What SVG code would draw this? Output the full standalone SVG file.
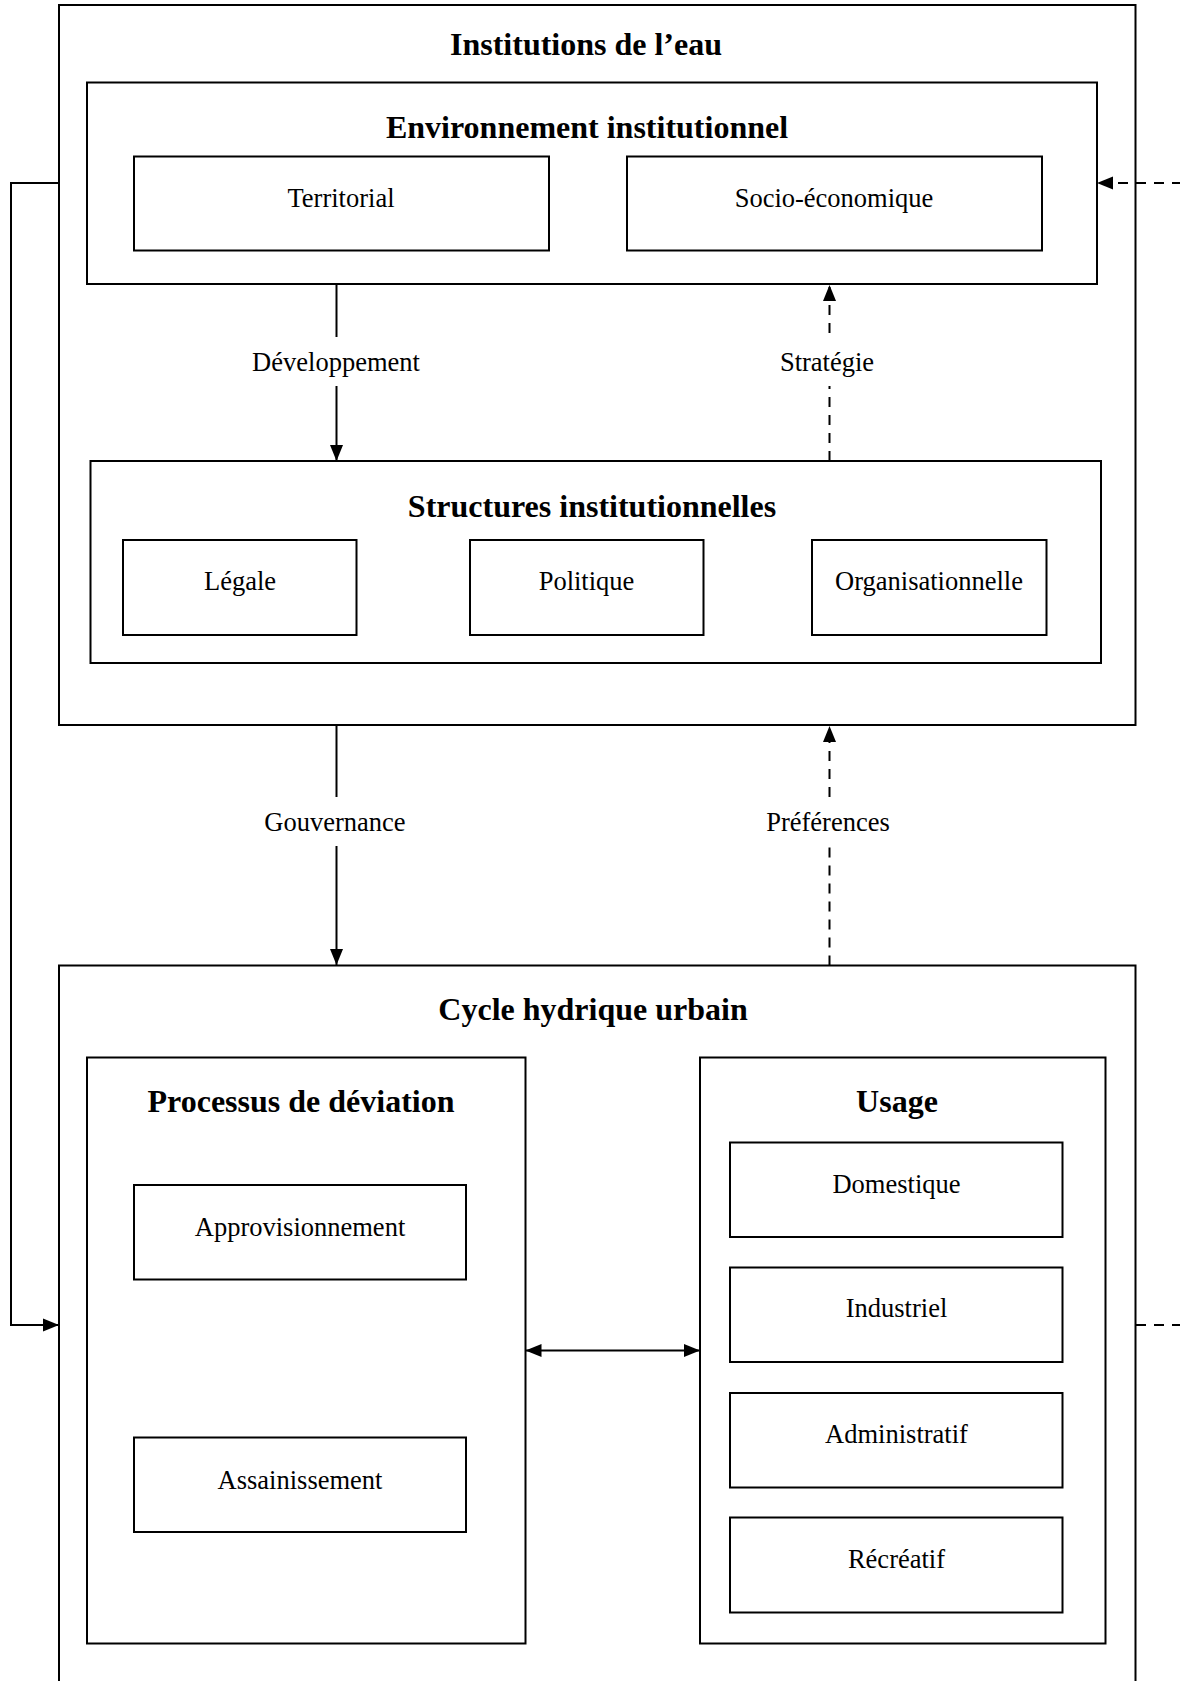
<svg xmlns="http://www.w3.org/2000/svg" width="1180" height="1681" viewBox="0 0 1180 1681">
  <style>
    .box { fill: none; stroke: #000; stroke-width: 2; }
    .title { font-family: "Liberation Serif", "Times New Roman", serif; font-weight: bold; font-size: 32px; text-anchor: middle; fill: #000; }
    .lbl { font-family: "Liberation Serif", "Times New Roman", serif; font-size: 26.5px; text-anchor: middle; fill: #000; }
    .line { fill: none; stroke: #000; stroke-width: 2; }
    .dash { fill: none; stroke: #000; stroke-width: 2; stroke-dasharray: 10 8; }
  </style>
  <defs>
    <marker id="arrow" markerUnits="userSpaceOnUse" markerWidth="17" markerHeight="14" refX="16" refY="6.5" orient="auto-start-reverse" viewBox="0 0 17 13">
      <path d="M0,0 L16,6.5 L0,13 z" fill="#000"/>
    </marker>
  </defs>
  <rect width="1180" height="1681" fill="#fff"/>

  <g id="institutions">
    <rect class="box" x="59" y="5" width="1076.5" height="720"/>
    <text class="title" x="586" y="55">Institutions de l’eau</text>
  </g>
  <g id="environnement">
    <rect class="box" x="87" y="82.5" width="1010" height="201.5"/>
    <text class="title" x="587" y="138">Environnement institutionnel</text>
  </g>
  <g id="territorial">
    <rect class="box" x="134" y="156.5" width="415" height="94"/>
    <text class="lbl" x="341" y="207">Territorial</text>
  </g>
  <g id="socio">
    <rect class="box" x="627" y="156.5" width="415" height="94"/>
    <text class="lbl" x="834" y="207">Socio-économique</text>
  </g>
  <g id="structures">
    <rect class="box" x="90.5" y="461" width="1010.5" height="202"/>
    <text class="title" x="592" y="517">Structures institutionnelles</text>
  </g>
  <g id="legale">
    <rect class="box" x="123" y="540" width="233.5" height="95"/>
    <text class="lbl" x="240" y="590">Légale</text>
  </g>
  <g id="politique">
    <rect class="box" x="470" y="540" width="233.5" height="95"/>
    <text class="lbl" x="586.5" y="590">Politique</text>
  </g>
  <g id="organisationnelle">
    <rect class="box" x="812" y="540" width="234.5" height="95"/>
    <text class="lbl" x="929" y="590">Organisationnelle</text>
  </g>
  <g id="cycle">
    <rect class="box" x="59" y="965.5" width="1076.5" height="740"/>
    <text class="title" x="593" y="1020">Cycle hydrique urbain</text>
  </g>
  <g id="processus">
    <rect class="box" x="87" y="1057.5" width="438.5" height="586"/>
    <text class="title" x="301" y="1112">Processus de déviation</text>
  </g>
  <g id="approvisionnement">
    <rect class="box" x="134" y="1185" width="332" height="94.5"/>
    <text class="lbl" x="300" y="1236">Approvisionnement</text>
  </g>
  <g id="assainissement">
    <rect class="box" x="134" y="1437.5" width="332" height="94.5"/>
    <text class="lbl" x="300" y="1489">Assainissement</text>
  </g>
  <g id="usage">
    <rect class="box" x="700" y="1057.5" width="405.5" height="586"/>
    <text class="title" x="897" y="1112">Usage</text>
  </g>
  <g id="domestique">
    <rect class="box" x="730" y="1142.5" width="332.5" height="94.5"/>
    <text class="lbl" x="896.5" y="1193">Domestique</text>
  </g>
  <g id="industriel">
    <rect class="box" x="730" y="1267.5" width="332.5" height="94.5"/>
    <text class="lbl" x="896.5" y="1317">Industriel</text>
  </g>
  <g id="administratif">
    <rect class="box" x="730" y="1393" width="332.5" height="94.5"/>
    <text class="lbl" x="896.5" y="1443">Administratif</text>
  </g>
  <g id="recreatif">
    <rect class="box" x="730" y="1517.5" width="332.5" height="95"/>
    <text class="lbl" x="896.5" y="1568">Récréatif</text>
  </g>

  <g id="connectors">
    <!-- Développement -->
    <line class="line" x1="336.5" y1="284" x2="336.5" y2="337"/>
    <line class="line" x1="336.5" y1="386" x2="336.5" y2="461" marker-end="url(#arrow)"/>
    <text class="lbl" x="336" y="371">Développement</text>
    <!-- Stratégie -->
    <line class="dash" x1="829.5" y1="461" x2="829.5" y2="386"/>
    <line class="dash" x1="829.5" y1="333" x2="829.5" y2="285" marker-end="url(#arrow)"/>
    <text class="lbl" x="827" y="371">Stratégie</text>
    <!-- Gouvernance -->
    <line class="line" x1="336.5" y1="725" x2="336.5" y2="797"/>
    <line class="line" x1="336.5" y1="846" x2="336.5" y2="965" marker-end="url(#arrow)"/>
    <text class="lbl" x="335" y="831">Gouvernance</text>
    <!-- Préférences -->
    <line class="dash" x1="829.5" y1="965.5" x2="829.5" y2="846"/>
    <line class="dash" x1="829.5" y1="797" x2="829.5" y2="726" marker-end="url(#arrow)"/>
    <text class="lbl" x="828" y="831">Préférences</text>
    <!-- left feedback loop -->
    <path class="line" d="M59,183 H11 V1325 H59" marker-end="url(#arrow)"/>
    <!-- right dashed loop -->
    <path class="dash" d="M1136,1325 H1200 V183 H1097" marker-end="url(#arrow)"/>
    <!-- double arrow -->
    <line class="line" x1="525.5" y1="1350.5" x2="700" y2="1350.5" marker-start="url(#arrow)" marker-end="url(#arrow)"/>
  </g>
</svg>
